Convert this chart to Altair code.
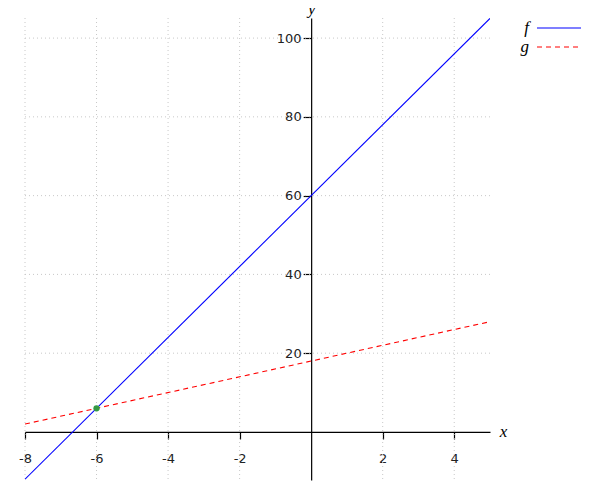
import altair as alt
import pandas as pd

# ---- data ----
f_x = [-8, 5]
f_y = [-12, 105]
g_x = [-8, 5]
g_y = [2, 28]
pt_x = [-6]
pt_y = [6]
series_names = ["f", "g"]
series_colors = ["#0000ff", "#ff0000"]
g_dash = [5, 4]
x_ticks = [-8, -6, -4, -2, 2, 4]
y_ticks = [20, 40, 60, 80, 100]
x_domain = [-8, 5]
y_domain = [-12.2, 105.1]

W, H = 465, 462
SERIF = "Liberation Serif"

f_df = pd.DataFrame({"x": f_x, "y": f_y})
g_df = pd.DataFrame({"x": g_x, "y": g_y})
pts = pd.DataFrame({"x": pt_x, "y": pt_y})
xg = pd.DataFrame({"x": x_ticks})
yg = pd.DataFrame({"y": y_ticks})

# axis offsets so axes cross at the origin
y0_px = H * (y_domain[1] - 0) / (y_domain[1] - y_domain[0])
x0_px = W * (0 - x_domain[0]) / (x_domain[1] - x_domain[0])
x_off = -(H - y0_px)
y_off = -x0_px

xs = alt.Scale(domain=x_domain, nice=False, zero=False)
ys = alt.Scale(domain=y_domain, nice=False, zero=False)

x_axis = alt.Axis(
    values=x_ticks, offset=x_off, grid=False, domainColor="black",
    domainWidth=1.2, tickColor="black", tickSize=7, tickWidth=1.2,
    labelFont="DejaVu Sans", labelFontSize=13, labelColor="#222",
    labelPadding=14, labelExpr="toString(datum.value)",
    title="x", titleFont=SERIF,
    titleFontStyle="italic", titleFontWeight="normal", titleFontSize=17,
    titleX=W + 13, titleY=0, titleBaseline="middle", titleAlign="center",
    titleColor="black", labelFlush=False,
)
y_axis = alt.Axis(
    values=y_ticks, offset=y_off, grid=False, domainColor="black",
    domainWidth=1.2, tickColor="black", tickSize=8, tickWidth=1.2,
    labelFont="DejaVu Sans", labelFontSize=13, labelColor="#222",
    labelPadding=2, labelExpr="toString(datum.value)",
    title="y", titleFont=SERIF,
    titleFontStyle="italic", titleFontWeight="normal", titleFontSize=17,
    titleAngle=0, titleX=0, titleY=-5, titleBaseline="alphabetic",
    titleAlign="center", titleColor="black", labelFlush=False,
)

grid_style = dict(color="#c8c8c8", strokeDash=[1, 3], strokeWidth=1)

xgrid = alt.Chart(xg).mark_rule(**grid_style).encode(
    x=alt.X("x:Q", scale=xs, axis=x_axis)
)
ygrid = alt.Chart(yg).mark_rule(**grid_style).encode(
    y=alt.Y("y:Q", scale=ys, axis=y_axis)
)

f_line = alt.Chart(f_df).mark_line(
    strokeWidth=1.15, clip=True, color=series_colors[0]
).encode(
    x=alt.X("x:Q", scale=xs, axis=x_axis),
    y=alt.Y("y:Q", scale=ys, axis=y_axis),
)
g_line = alt.Chart(g_df).mark_line(
    strokeWidth=1.1, clip=True, color=series_colors[1], strokeDash=g_dash
).encode(
    x=alt.X("x:Q", scale=xs, axis=x_axis),
    y=alt.Y("y:Q", scale=ys, axis=y_axis),
)

point_chart = alt.Chart(pts).mark_point(
    filled=True, size=40, color="#339944", opacity=1
).encode(
    x=alt.X("x:Q", scale=xs, axis=x_axis),
    y=alt.Y("y:Q", scale=ys, axis=y_axis),
)

# ---- legend (top right, outside the plot area) ----
leg_df = pd.DataFrame({"name": series_names})
LX0, LX1, LXT = W + 47, W + 91, W + 39
LY = [10, 29]
legend_layers = []
for i, name in enumerate(series_names):
    d = leg_df[leg_df["name"] == name]
    txt = alt.Chart(d).mark_text(
        font=SERIF, fontStyle="italic", fontSize=17, color="black",
        align="right", baseline="middle",
    ).encode(text="name:N", x=alt.value(LXT), y=alt.value(LY[i]))
    style = dict(color=series_colors[i], strokeWidth=1.1)
    if name == "g":
        style["strokeDash"] = g_dash
    sym = alt.Chart(d).mark_rule(**style).encode(
        x=alt.value(LX0), x2=alt.value(LX1), y=alt.value(LY[i])
    )
    legend_layers += [txt, sym]

chart = alt.layer(
    xgrid, ygrid, f_line, g_line, point_chart, *legend_layers
).properties(
    width=W, height=H,
    autosize=alt.AutoSizeParams(type="none"),
    padding={"left": 17, "top": 10, "right": 102, "bottom": 12},
).configure_view(stroke=None)

chart.save("out.html", embed_options={"renderer": "svg", "actions": False})
